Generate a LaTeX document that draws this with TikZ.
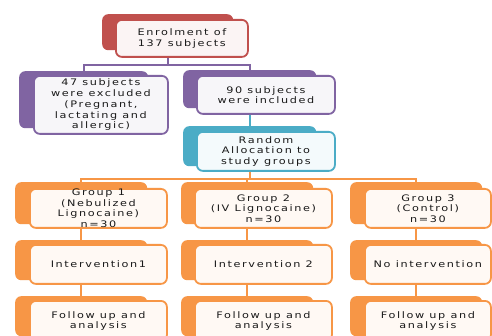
\documentclass[tikz,border=0pt]{standalone}
\usepackage{fontspec}
\newfontfamily\boxfont{DejaVu Sans}[FakeStretch=1.25,LetterSpace=18]
\usetikzlibrary{positioning}

\definecolor{ored}{HTML}{C0504D}
\definecolor{opurple}{HTML}{8064A2}
\definecolor{oteal}{HTML}{4BACC6}
\definecolor{oorange}{HTML}{F79646}

\tikzset{
  backbox/.style={fill=#1, rounded corners=6pt, anchor=north west, inner sep=0pt},
  frontbox/.style={draw=#1, line width=1.8pt, fill=#1!6, rounded corners=6pt,
    anchor=north west, inner sep=0pt, align=center, text=black!90,
    font=\boxfont\fontsize{9}{10.5}\selectfont},
  link/.style={draw=#1, line width=1.8pt},
}

\begin{document}
\begin{tikzpicture}[x=1pt, y=-1pt]
			\useasboundingbox (0,0) rectangle (492,336);
			\fill[white] (0,0) rectangle (492,336);
			\clip (0,0) rectangle (492,336);

			% Enrolment
			\node[backbox=ored, minimum width=131pt, minimum height=36pt] (enrolB) at (102,14) {};
			\node[frontbox=ored, minimum width=132pt, minimum height=37pt] (enrol) at (115,19) {Enrolment of\\137 subjects};

			% Excluded / included
			\node[backbox=opurple, minimum width=129pt, minimum height=57pt] (exclB) at (19,71) {};
			\node[frontbox=opurple, minimum width=134pt, minimum height=58pt] (excl) at (33,75) {47 subjects\\were excluded\\[1pt](Pregnant,\\lactating and\\allergic)};
			\node[backbox=opurple, minimum width=133pt, minimum height=38pt] (inclB) at (183,70) {};
			\node[frontbox=opurple, minimum width=138pt, minimum height=38pt] (incl) at (196,75) {90 subjects\\were included};

			% Allocation
			\node[backbox=oteal, minimum width=133pt, minimum height=40pt] (randB) at (183,126) {};
			\node[frontbox=oteal, minimum width=138pt, minimum height=39pt] (rand) at (196,131) {Random\\Allocation to\\study groups};

			% Groups
			\node[backbox=oorange, minimum width=132pt, minimum height=42pt] (grpaB) at (15,182) {};
			\node[frontbox=oorange, minimum width=137pt, minimum height=39pt] (grpa) at (29,188) {Group 1\\(Nebulized\\Lignocaine)\\n=30};
			\node[backbox=oorange, minimum width=132pt, minimum height=42pt] (grpbB) at (181,182) {};
			\node[frontbox=oorange, minimum width=137pt, minimum height=39pt] (grpb) at (194,188) {Group 2\\(IV Lignocaine)\\n=30};
			\node[backbox=oorange, minimum width=132pt, minimum height=42pt] (grpcB) at (350,182) {};
			\node[frontbox=oorange, minimum width=126pt, minimum height=39pt] (grpc) at (364,188) {Group 3\\(Control)\\n=30};

			% Interventions
			\node[backbox=oorange, minimum width=132pt, minimum height=40pt] (intaB) at (15,240) {};
			\node[frontbox=oorange, minimum width=137pt, minimum height=39pt] (inta) at (29,244) {Intervention1};
			\node[backbox=oorange, minimum width=132pt, minimum height=40pt] (intbB) at (181,240) {};
			\node[frontbox=oorange, minimum width=137pt, minimum height=39pt] (intb) at (194,244) {Intervention 2};
			\node[backbox=oorange, minimum width=132pt, minimum height=40pt] (intcB) at (350,240) {};
			\node[frontbox=oorange, minimum width=126pt, minimum height=39pt] (intc) at (364,244) {No intervention};

			% Follow up
			\node[backbox=oorange, minimum width=132pt, minimum height=40pt] (folaB) at (15,296) {};
			\node[frontbox=oorange, minimum width=137pt, minimum height=40pt] (fola) at (29,300) {Follow up and\\analysis};
			\node[backbox=oorange, minimum width=132pt, minimum height=40pt] (folbB) at (181,296) {};
			\node[frontbox=oorange, minimum width=137pt, minimum height=40pt] (folb) at (194,300) {Follow up and\\analysis};
			\node[backbox=oorange, minimum width=132pt, minimum height=40pt] (folcB) at (350,296) {};
			\node[frontbox=oorange, minimum width=126pt, minimum height=40pt] (folc) at (364,300) {Follow up and\\analysis};

			% Connectors
			\draw[link=opurple] (enrolB.south |- enrol.south) -- ++(0,7) -| (exclB.north);
			\draw[link=opurple] (enrolB.south |- enrol.south) -- ++(0,7) -| (inclB.north);
			\draw[link=oteal] (inclB.south |- incl.south) -- (randB.north);
			\draw[link=oorange] (randB.south |- rand.south) -- ++(0,7) -| (grpaB.north);
			\draw[link=oorange] (randB.south |- rand.south) -- ++(0,7) -| (grpbB.north);
			\draw[link=oorange] (randB.south |- rand.south) -- ++(0,7) -| (grpcB.north);
			\foreach \c in {a,b,c} {
				\draw[link=oorange] (grp\c B.south |- grp\c.south) -- (int\c B.north);
				\draw[link=oorange] (int\c B.south |- int\c.south) -- (fol\c B.north);
			}
		\end{tikzpicture}
\end{document}
